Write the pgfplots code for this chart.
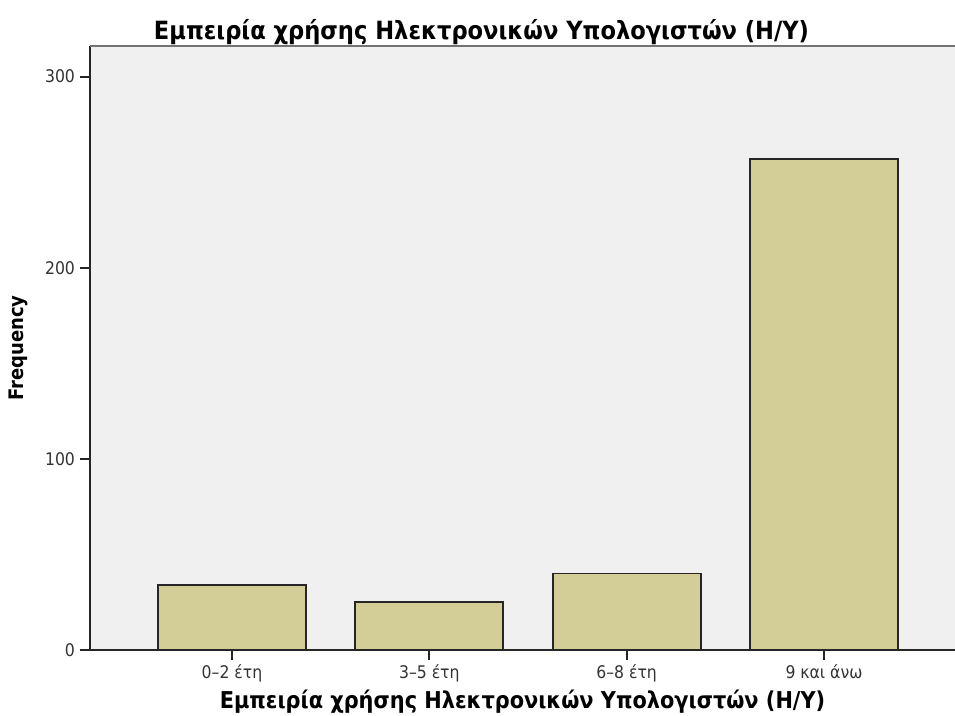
\documentclass[border=0pt]{standalone}
\usepackage{fontspec}
\setmainfont{DejaVu Sans Condensed}
\usepackage{pgfplots}
\pgfplotsset{compat=1.18}
\definecolor{barfill}{RGB}{211,206,151}
\definecolor{plotbg}{RGB}{240,240,240}
\begin{document}
\begin{tikzpicture}
\begin{axis}[
    at={(0pt,0pt)}, anchor=south west,
    scale only axis,
    width=432.5pt, height=302pt,
    axis background/.style={fill=plotbg},
    ybar, bar width=74pt,
    xmin=-0.7196, xmax=3.664,
    ymin=0, ymax=316,
    axis x line*=bottom, axis y line*=left,
    axis line style={line width=1pt, black!85},
    xtick=data,
    xticklabels={0–2 έτη, 3–5 έτη, 6–8 έτη, 9 και άνω},
    ytick={0,100,200,300},
    tick align=outside,
    major tick length=5pt,
    tick style={line width=1pt, black!85},
    ticklabel style={font=\fontsize{8.7}{10}\selectfont, text=black!80},
    xticklabel style={yshift=1pt},
    yticklabel style={xshift=1pt},
    /pgf/number format/assume math mode=true,
    xlabel={\textbf{Εμπειρία χρήσης Ηλεκτρονικών Υπολογιστών (Η/Υ)}},
    xlabel style={font=\fontsize{11.6}{13}\selectfont, yshift=3pt},
    ylabel={\textbf{Frequency}},
    ylabel style={font=\fontsize{10}{12}\selectfont, yshift=2pt},
    clip=false,
]
\addplot[fill=barfill, draw=black!85, line width=0.9pt] coordinates {(0,34) (1,25) (2,40) (3,257)};
\draw[black!55, line width=1pt] (rel axis cs:0,1) -- (rel axis cs:1,1);
\end{axis}
\node[font=\bfseries\fontsize{12.55}{14}\selectfont] at (195.75pt,309pt) {Εμπειρία χρήσης Ηλεκτρονικών Υπολογιστών (Η/Υ)};
\pgfresetboundingbox
\path (-45pt,-33pt) rectangle (432.5pt,325pt);
\end{tikzpicture}
\end{document}
